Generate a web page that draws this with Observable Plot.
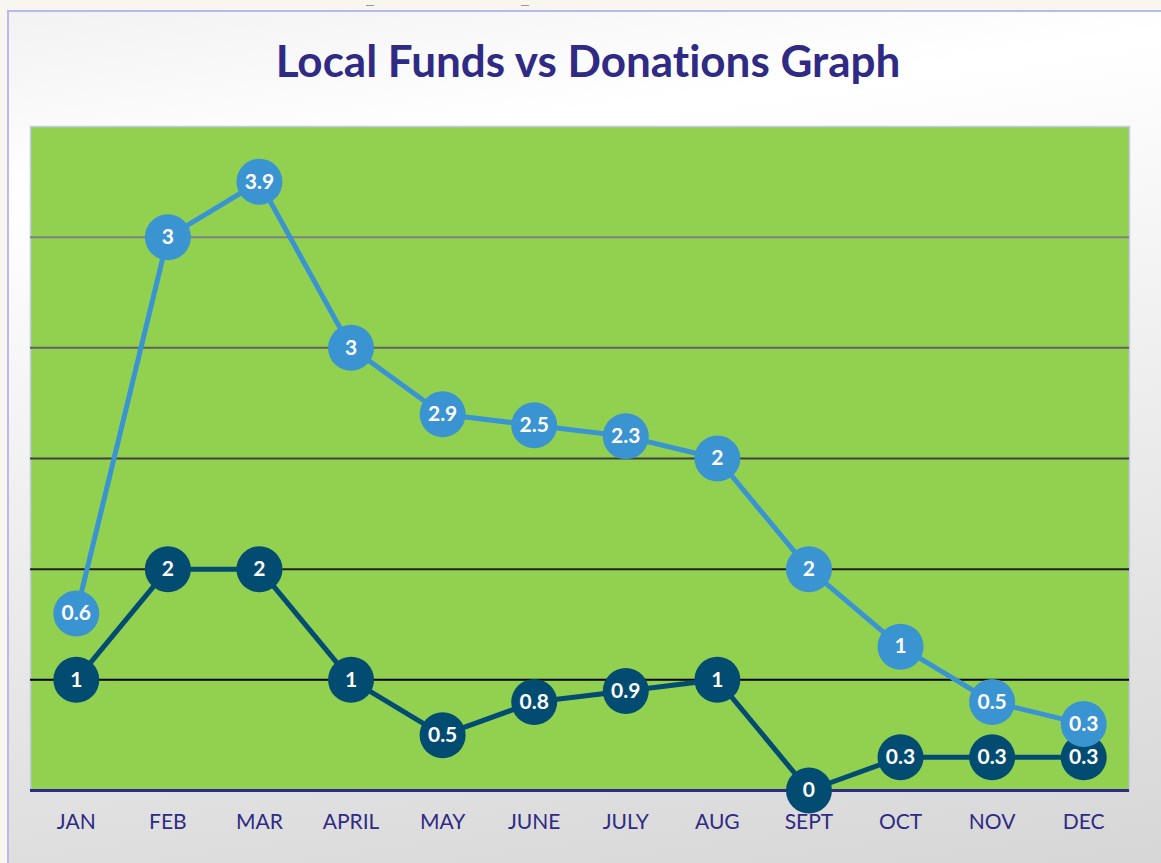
<!DOCTYPE html>
<html>
<head>
<meta charset="utf-8">
<script src="https://cdn.jsdelivr.net/npm/d3@7"></script>
<script src="https://cdn.jsdelivr.net/npm/@observablehq/plot@0.6"></script>
<style>
  html, body { margin: 0; padding: 0; }
  #page { position: relative; width: 1161px; height: 863px; overflow: hidden; background: #f8f6f0; font-family: Lato, "Open Sans", sans-serif; font-variant-ligatures: none; }
  #box { position: absolute; left: 7px; top: 10px; width: 1160px; height: 860px; border: 2px solid #b9b9ea; box-sizing: border-box;
         background: linear-gradient(172deg, #f2f2f2 0%, #ffffff 18%, #f1f1f1 45%, #d6d6d6 100%); }
  .dash { position: absolute; top: 5px; width: 8px; height: 1px; background: #999; }
  #title { position: absolute; left: 7px; width: 1162px; top: 34px; line-height: 52px; text-align: center; font-size: 44px; font-weight: 700; color: #2f2a84; font-variant-ligatures: none; }
  #chart { position: absolute; left: 0; top: 100px; }
  #chart svg text { font-variant-ligatures: none; }
</style>
</head>
<body>
<div id="page">
  <div id="box"></div>
  <div class="dash" style="left:366px"></div>
  <div class="dash" style="left:521px"></div>
  <div id="title">Local Funds vs Donations Graph</div>
  <div id="chart"></div>
</div>
<script>
const months = ["JAN", "FEB", "MAR", "APRIL", "MAY", "JUNE", "JULY", "AUG", "SEPT", "OCT", "NOV", "DEC"];
const localFunds = [1, 2, 2, 1, 0.5, 0.8, 0.9, 1, 0, 0.3, 0.3, 0.3];
// donations as drawn (stacked on top of local funds)
const donations = [0.6, 3, 3.5, 3, 2.9, 2.5, 2.3, 2, 2, 1, 0.5, 0.3];
// donation labels as printed on the chart
const donationLabels = ["0.6", "3", "3.9", "3", "2.9", "2.5", "2.3", "2", "2", "1", "0.5", "0.3"];
const gridValues = [1, 2, 3, 4, 5];

const localRows = months.map((m, i) => ({month: m, y: localFunds[i], label: String(localFunds[i])}));
const donationRows = months.map((m, i) => ({month: m, y: localFunds[i] + donations[i], label: donationLabels[i]}));

const gridColor = d3.scaleLinear().domain([1, 5]).range(["#000000", "#808080"]);
const darkBlue = "#024c72";
const lightBlue = "#3a94d2";

const chart = Plot.plot({
  width: 1161,
  height: 763,
  marginLeft: 30,
  marginRight: 32,
  marginTop: 26,
  marginBottom: 73,
  x: {domain: months, type: "point", padding: 0.5, round: false, label: null},
  y: {domain: [0, 6], axis: null},
  style: {background: "transparent", fontFamily: "Lato, 'Open Sans', sans-serif", color: "#2f2a84", overflow: "visible"},
  marks: [
    Plot.frame({fill: "#92d050", stroke: "#c8c8ee", strokeWidth: 1.5}),
    Plot.ruleY(gridValues, {stroke: d => gridColor(d), strokeWidth: 2}),
    Plot.ruleY([0], {stroke: "#2f2a84", strokeWidth: 3}),
    Plot.line(localRows, {x: "month", y: "y", stroke: darkBlue, strokeWidth: 5}),
    Plot.dot(localRows, {x: "month", y: "y", r: 23, fill: darkBlue}),
    Plot.text(localRows, {x: "month", y: "y", text: "label", fill: "white", fontWeight: "bold", fontSize: 21}),
    Plot.line(donationRows, {x: "month", y: "y", stroke: lightBlue, strokeWidth: 5}),
    Plot.dot(donationRows, {x: "month", y: "y", r: 23, fill: lightBlue}),
    Plot.text(donationRows, {x: "month", y: "y", text: "label", fill: "white", fontWeight: "bold", fontSize: 21}),
    Plot.axisX({tickSize: 0, tickPadding: 24, fontSize: 21, label: null})
  ]
});
document.getElementById("chart").appendChild(chart);
</script>
</body>
</html>
